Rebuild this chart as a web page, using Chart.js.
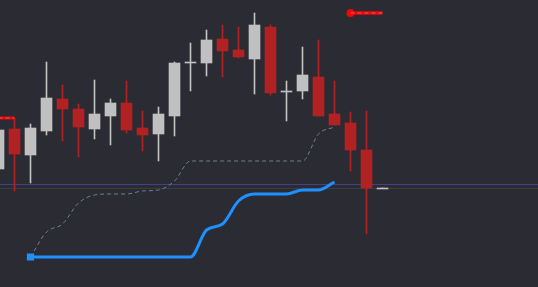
<!DOCTYPE html>
<html><head><meta charset="utf-8">
<script src="https://cdn.jsdelivr.net/npm/chart.js@4.4.1/dist/chart.umd.min.js"></script>
<style>html,body{margin:0;padding:0;background:#2a2b33;overflow:hidden}#wrap{width:538px;height:287px}</style>
</head><body><div id="wrap"><canvas id="c"></canvas></div>
<script>
// Bar index (category) of each candle
const bars   = [0,1,2,3,4,5,6,7,8,9,10,11,12,13,14,15,16,17,18,19,20,21,22,23,24];
const opens  = [118,158,132,156,188,178,158,171,184,159,153,171,225,224,248,237,228,260,196,196,210,173,164,137,99];
const highs  = [157,169,163,225,202,183,207,188,206,176,180,225,244,257,262,260,274,262,206,240,247,206,175,176,99];
const lows   = [118,96,104,152,146,130,148,142,154,136,126,151,196,211,210,229,193,192,166,188,171,162,116,53,99];
const closes = [157,133,159,189,178,160,173,184,157,152,173,224,225,247,236,230,262,194,196,212,171,162,137,99,99];

// Indicator lines (bar index 2..21)
const lineBars   = [2,3,4,5,6,7,8,9,10,11,12,13,14,15,16,17,18,19,20,21];
const blueLine   = [30,30,30,30,30,30,30,30,30,30,30,57,63,86,93,93,93,97,97,105];
const dashedLine = [30,55,63,84,92,93,93,96,97,106,126,126,126,126,126,126,126,126,153,160];

// Levels
const leftLevelBars = [0,1];   const leftLevel = 169;
const rightLevelBars = [22,24]; const rightLevel = 274;
const purpleLevel = 102.5;
const grayLevel = 98.5;
const xMin = 0.09375, xMax = 33.71875;

const UP = '#c0c0c0', DOWN = '#b22222';
const col = bars.map(i => closes[i] >= opens[i] ? UP : DOWN);

const wicks = bars.map(i => ({x: i, y: [lows[i], highs[i]]}));
const bodies = bars.map(i => {
  const lo = Math.min(opens[i], closes[i]), hi = Math.max(opens[i], closes[i]);
  return {x: i, y: lo === hi ? [lo - 1, hi] : [lo, hi]};
});
const pts = (xs, ys) => xs.map((x, k) => ({x, y: ys[k]}));
const flat = (xs, v) => xs.map(x => ({x, y: v}));

new Chart(document.getElementById('c'), {
  data: {
    datasets: [
      {type:'line', data: flat([xMin, xMax], purpleLevel), borderColor:'#483d8b', borderWidth:1, pointRadius:0, order:20},
      {type:'line', data: flat([xMin, xMax], grayLevel), borderColor:'#3a3c44', borderWidth:1, pointRadius:0, order:21},
      {type:'bar', data: wicks, backgroundColor: col, barThickness:1, grouped:false, borderWidth:0, order:11},
      {type:'bar', data: bodies, backgroundColor: col, barThickness:11, grouped:false, borderWidth:0, order:10},
      {type:'line', data: pts(lineBars, dashedLine), borderColor:'#708090', borderWidth:1, borderDash:[4,3], pointRadius:0, cubicInterpolationMode:'monotone', order:5},
      {type:'line', data: pts(lineBars, blueLine), borderColor:'#1e90ff', backgroundColor:'#1e90ff', borderWidth:3, pointStyle:'rect', pointRadius: c => c.dataIndex === 0 ? 3 : 0, cubicInterpolationMode:'monotone', order:4},
      {type:'line', data: flat(leftLevelBars, leftLevel), borderColor:'#ff0000', backgroundColor:'#ff0000', borderWidth:3, pointRadius:0, order:3},
      {type:'line', data: flat(leftLevelBars, leftLevel), borderColor:'rgba(160,150,170,0.7)', borderWidth:1, borderDash:[4,3], pointRadius:0, order:2},
      {type:'line', data: flat(rightLevelBars, rightLevel), borderColor:'#ff0000', backgroundColor:'#ff0000', borderWidth:3.5, pointRadius: c => c.dataIndex === 0 ? 2.2 : 0, order:3},
      {type:'line', data: flat(rightLevelBars, rightLevel), borderColor:'rgba(160,150,170,0.7)', borderWidth:1, borderDash:[4,3], pointRadius:0, order:2}
    ]
  },
  options: {
    responsive: true, maintainAspectRatio: false, animation: false, devicePixelRatio: 1,
    layout: {padding: 0, autoPadding: false},
    plugins: {legend: {display:false}, tooltip: {enabled:false}},
    scales: {
      x: {type:'linear', display:false, offset:false, min:xMin, max:xMax},
      y: {type:'linear', display:false, min:0, max:287}
    }
  }
});
</script></body></html>
